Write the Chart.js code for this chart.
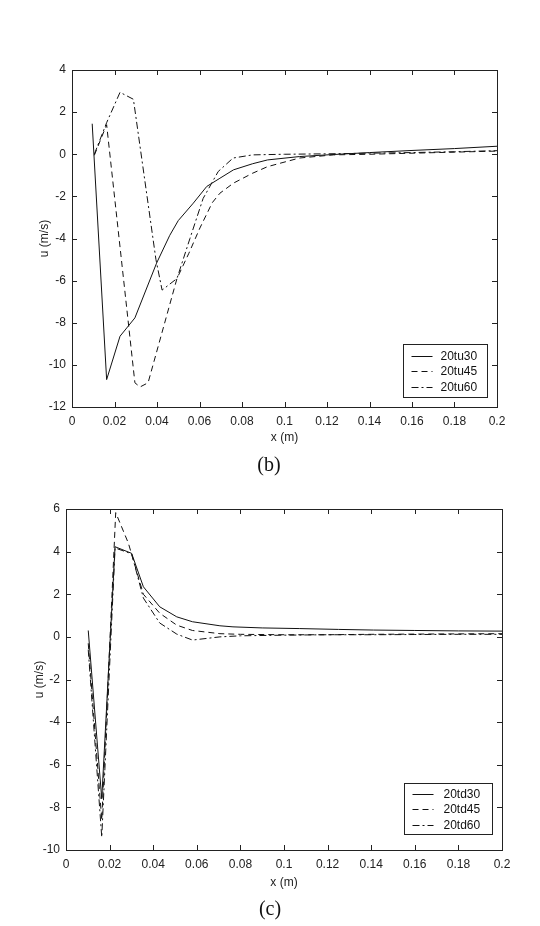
<!DOCTYPE html>
<html>
<head>
<meta charset="utf-8">
<script src="https://cdn.jsdelivr.net/npm/chart.js@4.4.0/dist/chart.umd.min.js"></script>
<style>
    html, body { margin: 0; padding: 0; background: #fff; }
    body { width: 540px; height: 926px; position: relative; overflow: hidden; }
    .grafico { position: absolute; left: 0; width: 540px; }
    #cajaB { top: 0; height: 450px; }
    #cajaC { top: 470px; height: 456px; }
    .leyenda-fig {
        position: absolute; left: 0; width: 540px; text-align: center;
        font-family: "Liberation Serif", "Times New Roman", serif; font-size: 20px; color: #111;
        line-height: 20px; z-index: 2;
    }
</style>
</head>
<body>
<div class="grafico" id="cajaB"><canvas id="graficoB"></canvas></div>
<div class="grafico" id="cajaC"><canvas id="graficoC"></canvas></div>
<div class="leyenda-fig" style="top:454px; left:-1px;">(b)</div>
<div class="leyenda-fig" style="top:898px;">(c)</div>

<script>
// Ejes
const xTicks = [0, 0.02, 0.04, 0.06, 0.08, 0.1, 0.12, 0.14, 0.16, 0.18, 0.2];
const yTicksB = [-12, -10, -8, -6, -4, -2, 0, 2, 4];
const yTicksC = [-10, -8, -6, -4, -2, 0, 2, 4, 6];

// Series de la figura (b)
const nombresB = ['20tu30', '20tu45', '20tu60'];
const tu30X = [0.0095, 0.0163, 0.0226, 0.0296, 0.0398, 0.046, 0.05, 0.0571, 0.0634, 0.0696, 0.076, 0.085, 0.092, 0.107, 0.12, 0.14, 0.16, 0.18, 0.2];
const tu30Y = [1.45, -10.7, -8.64, -7.77, -5.17, -3.85, -3.15, -2.32, -1.53, -1.14, -0.74, -0.45, -0.27, -0.11, -0.03, 0.08, 0.18, 0.27, 0.38];
const tu45X = [0.0105, 0.0163, 0.0296, 0.032, 0.0358, 0.0494, 0.055, 0.0602, 0.066, 0.0696, 0.076, 0.085, 0.092, 0.107, 0.123, 0.14, 0.16, 0.18, 0.2];
const tu45Y = [-0.05, 1.4, -10.85, -11.05, -10.85, -5.9, -4.7, -3.5, -2.3, -1.85, -1.37, -0.9, -0.59, -0.18, -0.03, 0.0, 0.05, 0.1, 0.15];
const tu60X = [0.0105, 0.0163, 0.0226, 0.0289, 0.0395, 0.0424, 0.0494, 0.0555, 0.0617, 0.0688, 0.0758, 0.085, 0.1, 0.12, 0.14, 0.16, 0.18, 0.2];
const tu60Y = [0.0, 1.5, 2.94, 2.61, -5.0, -6.45, -5.9, -4.0, -2.1, -0.82, -0.18, -0.03, 0.0, 0.02, 0.05, 0.08, 0.12, 0.17];

// Series de la figura (c)
const nombresC = ['20td30', '20td45', '20td60'];
const td30X = [0.0102, 0.0164, 0.0225, 0.0301, 0.0355, 0.043, 0.0508, 0.058, 0.0706, 0.0766, 0.09, 0.107, 0.125, 0.141, 0.16, 0.18, 0.2];
const td30Y = [0.3, -7.6, 4.23, 3.92, 2.35, 1.41, 0.94, 0.71, 0.52, 0.47, 0.42, 0.39, 0.35, 0.32, 0.3, 0.28, 0.27];
const td45X = [0.0102, 0.0164, 0.0228, 0.0286, 0.0355, 0.043, 0.0508, 0.058, 0.0706, 0.08, 0.1, 0.12, 0.14, 0.16, 0.18, 0.2];
const td45Y = [-0.3, -8.6, 5.83, 4.4, 2.0, 1.11, 0.55, 0.3, 0.15, 0.12, 0.1, 0.1, 0.12, 0.13, 0.14, 0.15];
const td60X = [0.0102, 0.0164, 0.0225, 0.0301, 0.0355, 0.043, 0.0508, 0.058, 0.0706, 0.08, 0.1, 0.12, 0.14, 0.16, 0.18, 0.2];
const td60Y = [-0.6, -9.4, 4.17, 3.9, 1.82, 0.65, 0.13, -0.15, 0.0, 0.05, 0.08, 0.1, 0.1, 0.11, 0.12, 0.12];

// Estilos de linea: continua, discontinua, punto-raya
const estilos = [[], [6, 4], [7, 3, 2, 3]];
const fuente = '"Liberation Sans", Arial, sans-serif';

function puntos(xs, ys) {
    return xs.map((x, i) => ({ x: x, y: ys[i] }));
}

function formatoX(v) {
    return v === 0 ? '0' : String(+v.toFixed(2));
}

// Marco estilo Matlab con marcas hacia dentro en los cuatro lados
const marcoMatlab = {
    id: 'marcoMatlab',
    afterDatasetsDraw(chart) {
        const { ctx, chartArea: a } = chart;
        const sx = chart.scales.x, sy = chart.scales.y;
        const largo = 5;
        ctx.save();
        ctx.strokeStyle = '#222';
        ctx.lineWidth = 1;
        ctx.beginPath();
        sx.ticks.forEach(t => {
            const px = Math.round(sx.getPixelForValue(t.value)) + 0.5;
            ctx.moveTo(px, a.bottom); ctx.lineTo(px, a.bottom - largo);
            ctx.moveTo(px, a.top); ctx.lineTo(px, a.top + largo);
        });
        sy.ticks.forEach(t => {
            const py = Math.round(sy.getPixelForValue(t.value)) + 0.5;
            ctx.moveTo(a.left, py); ctx.lineTo(a.left + largo, py);
            ctx.moveTo(a.right, py); ctx.lineTo(a.right - largo, py);
        });
        ctx.stroke();
        ctx.strokeRect(Math.round(a.left) + 0.5, Math.round(a.top) + 0.5,
            Math.round(a.right - a.left), Math.round(a.bottom - a.top));
        ctx.restore();
    }
};

// Leyenda dentro del area, abajo a la derecha
const leyendaCaja = {
    id: 'leyendaCaja',
    afterDraw(chart, args, opts) {
        const { ctx, chartArea: a } = chart;
        const x0 = Math.round(a.right - opts.derecha - opts.ancho) + 0.5;
        const y0 = Math.round(a.bottom - opts.abajo - opts.alto) + 0.5;
        ctx.save();
        ctx.fillStyle = '#fff';
        ctx.fillRect(x0, y0, opts.ancho, opts.alto);
        ctx.strokeStyle = '#222';
        ctx.lineWidth = 1;
        ctx.strokeRect(x0, y0, opts.ancho, opts.alto);
        ctx.font = '12px ' + fuente;
        ctx.textBaseline = 'middle';
        ctx.fillStyle = '#111';
        chart.data.datasets.forEach((ds, i) => {
            const y = Math.round(y0 + opts.fila0 + i * opts.paso) + 0.5;
            ctx.beginPath();
            ctx.setLineDash(ds.borderDash);
            ctx.strokeStyle = '#111';
            ctx.moveTo(x0 + 8, y);
            ctx.lineTo(x0 + 29, y);
            ctx.stroke();
            ctx.setLineDash([]);
            ctx.fillText(ds.label, x0 + opts.texto, y);
        });
        ctx.restore();
    }
};

function crearGrafico(idCanvas, series, nombres, yTicks, cfg) {
    const datasets = series.map((s, i) => ({
        label: nombres[i],
        data: puntos(s[0], s[1]),
        borderColor: '#111',
        borderWidth: 1,
        borderDash: estilos[i],
        pointRadius: 0,
        tension: 0,
        fill: false
    }));

    return new Chart(document.getElementById(idCanvas).getContext('2d'), {
        type: 'line',
        data: { datasets: datasets },
        plugins: [marcoMatlab, leyendaCaja],
        options: {
            responsive: true,
            maintainAspectRatio: false,
            animation: false,
            layout: { padding: cfg.padding },
            plugins: {
                legend: { display: false },
                tooltip: { enabled: false },
                leyendaCaja: cfg.leyenda
            },
            scales: {
                x: {
                    type: 'linear',
                    min: 0,
                    max: 0.2,
                    afterBuildTicks: s => { s.ticks = xTicks.map(v => ({ value: v })); },
                    afterFit: s => { s.height = cfg.altoX; },
                    grid: { display: false, drawTicks: false },
                    border: { display: false },
                    ticks: {
                        callback: v => formatoX(v),
                        padding: 7,
                        maxRotation: 0,
                        autoSkip: false,
                        color: '#222',
                        font: { family: fuente, size: 12 }
                    },
                    title: {
                        display: true,
                        text: 'x (m)',
                        color: '#222',
                        padding: 0,
                        font: { family: fuente, size: 12 }
                    }
                },
                y: {
                    min: yTicks[0],
                    max: yTicks[yTicks.length - 1],
                    afterBuildTicks: s => { s.ticks = yTicks.map(v => ({ value: v })); },
                    afterFit: s => { s.width = cfg.anchoY; },
                    grid: { display: false, drawTicks: false },
                    border: { display: false },
                    ticks: {
                        padding: 6,
                        color: '#222',
                        font: { family: fuente, size: 12 }
                    },
                    title: {
                        display: true,
                        text: 'u (m/s)',
                        color: '#222',
                        padding: 0,
                        font: { family: fuente, size: 12 }
                    }
                }
            }
        }
    });
}

crearGrafico('graficoB',
    [[tu30X, tu30Y], [tu45X, tu45Y], [tu60X, tu60Y]],
    nombresB, yTicksB, {
        padding: { left: 37, right: 43, top: 70, bottom: 5 },
        anchoY: 35,
        altoX: 38,
        leyenda: { ancho: 84, alto: 53, derecha: 10, abajo: 10, fila0: 11, paso: 15.5, texto: 37 }
    });

crearGrafico('graficoC',
    [[td30X, td30Y], [td45X, td45Y], [td60X, td60Y]],
    nombresC, yTicksC, {
        padding: { left: 32, right: 38, top: 39, bottom: 36 },
        anchoY: 34,
        altoX: 40,
        leyenda: { ancho: 88, alto: 51, derecha: 10, abajo: 16, fila0: 10.3, paso: 15.5, texto: 39 }
    });
</script>
</body>
</html>
